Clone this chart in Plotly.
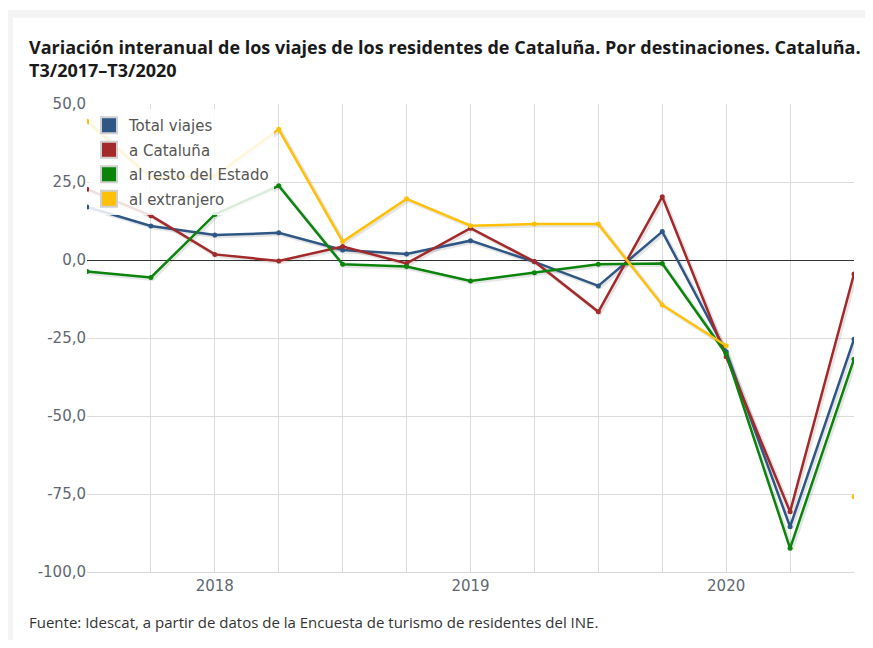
import plotly.graph_objects as go

quarters = ["T3/2017", "T4/2017", "T1/2018", "T2/2018", "T3/2018", "T4/2018",
            "T1/2019", "T2/2019", "T3/2019", "T4/2019", "T1/2020", "T2/2020", "T3/2020"]
year_labels = {"T1/2018": "2018", "T1/2019": "2019", "T1/2020": "2020"}

y_tick_values = [-100, -75, -50, -25, 0, 25, 50]
y_tick_labels = ["-100,0", "-75,0", "-50,0", "-25,0", "0,0", "25,0", "50,0"]

total_viajes = [17.0, 10.9, 8.0, 8.7, 3.2, 1.9, 6.2, -0.6, -8.3, 9.1, -29.4, -85.5, -25.4]
a_cataluna = [22.7, 14.2, 1.8, -0.3, 4.3, -1.1, 10.2, -0.5, -16.6, 20.3, -31.0, -80.7, -4.5]
resto_estado = [-3.7, -5.6, 14.6, 23.8, -1.4, -2.1, -6.7, -4.1, -1.4, -1.1, -30.1, -92.4, -31.8]
extranjero = [44.5, 26.3, 27.0, 41.9, 5.9, 19.6, 11.0, 11.5, 11.5, -14.4, -27.5, None, -75.9]

series_names = ["Total viajes", "a Cataluña", "al resto del Estado", "al extranjero"]
series_values = [total_viajes, a_cataluna, resto_estado, extranjero]
colors = ["#2f5785", "#a3292b", "#0a840a", "#ffc107"]

x_idx = list(range(len(quarters)))

# page body has an 8px margin: the figure is drawn at (8, 8)
OFF = 8
W, H = 873 - OFF, 648 - 2 * OFF
# plot area in screen (reference) pixels
L, R, T, B = 87, 854, 104, 572


def px(x):
    return (x - L) / (R - L)


def py(y):
    return (B - y) / (B - T)


fig = go.Figure()

# subtle shadows
for vals in series_values:
    fig.add_trace(go.Scatter(
        x=[i + 0.025 for i in x_idx], y=[v - 0.45 if v is not None else None for v in vals],
        mode="lines", line=dict(color="rgba(0,0,0,0.10)", width=4),
        hoverinfo="skip", showlegend=False))

for name, vals, c in zip(series_names, series_values, colors):
    fig.add_trace(go.Scatter(
        x=x_idx, y=vals, mode="lines+markers", name=name,
        line=dict(color=c, width=2.5),
        marker=dict(color=c, size=5),
        showlegend=False,
        text=quarters,
        hovertemplate="%{text}<br>" + name + ": %{y:.1f}<extra></extra>"))

# legend proxies (square swatches)
for name, c in zip(series_names, colors):
    fig.add_trace(go.Scatter(
        x=[None], y=[None], mode="markers", name=name, legendgroup=name,
        marker=dict(symbol="square", size=18, color=c,
                    line=dict(color="#d0d0d0", width=2)),
        showlegend=True))

tickvals = [i for i, q in enumerate(quarters)]
ticktext = [year_labels.get(q, "") for q in quarters]

tickfont = dict(family="DejaVu Sans", size=15, color="#5f6672")

fig.update_layout(
    width=W, height=H,
    margin=dict(l=L - OFF, r=W - (R - OFF), t=T - OFF, b=H - (B - OFF), pad=0),
    paper_bgcolor="white",
    plot_bgcolor="rgba(0,0,0,0)",
    font=dict(family="DejaVu Sans", size=13, color="#5f6672"),
    showlegend=True,
    legend=dict(
        x=px(89), y=py(109), xanchor="left", yanchor="top",
        bgcolor="rgba(255,255,255,0.85)",
        font=dict(family="DejaVu Sans", size=15, color="#555555"),
        itemwidth=30, tracegroupgap=2, traceorder="grouped",
    ),
    xaxis=dict(
        range=[0, len(quarters) - 1],
        tickmode="array", tickvals=tickvals, ticktext=ticktext,
        showgrid=True, gridcolor="#dcdcdc", gridwidth=1,
        showline=True, linecolor="#d8d8d8", linewidth=1,
        zeroline=False, ticks="", ticklen=0,
        tickfont=tickfont,
        fixedrange=True,
    ),
    yaxis=dict(
        range=[-100, 50], tickmode="array",
        tickvals=y_tick_values, ticktext=y_tick_labels,
        showgrid=True, gridcolor="#dcdcdc", gridwidth=1,
        zeroline=True, zerolinecolor="#333333", zerolinewidth=1,
        showline=False, ticks="",
        tickfont=tickfont,
        fixedrange=True,
    ),
    shapes=[
        dict(type="rect", xref="paper", yref="paper", layer="below",
             x0=px(5), x1=px(890), y0=py(10), y1=py(680),
             fillcolor="#f4f4f4", line=dict(width=0)),
        dict(type="rect", xref="paper", yref="paper", layer="below",
             x0=px(13), x1=px(890), y0=py(18), y1=py(680),
             fillcolor="white", line=dict(width=0)),
    ],
    annotations=[
        dict(text="Variación interanual de los viajes de los residentes de Cataluña. Por destinaciones. Cataluña.<br>T3/2017–T3/2020",
             xref="paper", yref="paper", x=px(27), y=py(33), xanchor="left", yanchor="top",
             align="left", showarrow=False,
             font=dict(family="Open Sans", size=18, color="#1a1a1a", weight="bold")),
        dict(text="Fuente: Idescat, a partir de datos de la Encuesta de turismo de residentes del INE.",
             xref="paper", yref="paper", x=px(27), y=py(622), xanchor="left", yanchor="middle",
             align="left", showarrow=False,
             font=dict(family="Open Sans", size=15, color="#333333")),
    ],
)

fig.write_html("out.html")
